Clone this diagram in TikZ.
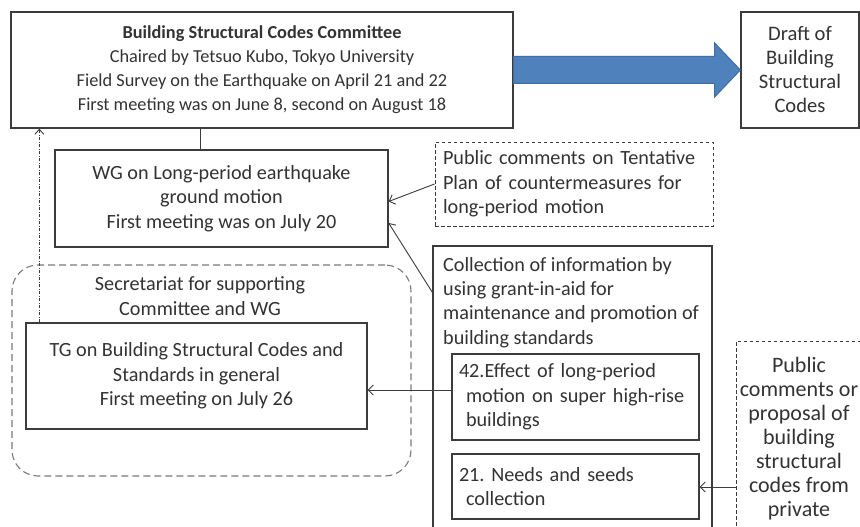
\documentclass[tikz,border=0pt]{standalone}
\usepackage{fontspec}
\setmainfont{Carlito}
\frenchspacing
\usetikzlibrary{arrows.meta,calc}
\definecolor{ink}{HTML}{333333}
\definecolor{edge}{HTML}{3C3C3C}
\definecolor{blueA}{HTML}{4F81BD}
\definecolor{blueB}{HTML}{3F6E9F}
\definecolor{secgray}{HTML}{7A7A7A}
\tikzset{
  box/.style={draw=edge, line width=1.3pt, rectangle, inner sep=0pt, text=ink, align=center},
  dbox/.style={draw=edge, line width=1pt, rectangle, inner sep=0pt, dash pattern=on 3.5pt off 2.5pt},
  txt/.style={text=ink, inner sep=0pt},
  conn/.style={draw=edge, line width=0.9pt, -{Straight Barb[length=5pt,width=10pt]}},
  plain/.style={draw=edge, line width=0.9pt},
  fa/.style={font=\fontsize{18.3}{24}\selectfont},
  fb/.style={font=\fontsize{20.2}{24.3}\selectfont},
  fc/.style={font=\fontsize{20.6}{24}\selectfont},
  fd/.style={font=\fontsize{22}{24}\selectfont},
}
\begin{document}
\begin{tikzpicture}[x=1pt,y=-1pt]
\useasboundingbox (0,0) rectangle (860,527);
\clip (0,0) rectangle (860,527);
\fill[white] (0,0) rectangle (860,527);

% main boxes
\node[box, fa, minimum width=502, minimum height=116] (comm) at (262,70)
  {\textbf{Building Structural Codes Committee}\\Chaired by Tetsuo Kubo, Tokyo University\\Field Survey on the Earthquake on April 21 and 22\\First meeting was on June 8, second on August 18};
\node[box, fc, minimum width=118, minimum height=116] (draft) at (800,70)
  {Draft of\\Building\\Structural\\Codes};
\node[box, fb, minimum width=333, minimum height=97] (wg) at (221.5,198.5)
  {WG on Long-period earthquake\\ground motion\\First meeting was on July 20};
\node[dbox, fb, minimum width=278, minimum height=84, text width=262, align=left, text=ink] (pub) at (574,184)
  {Public comments on Tentative\\Plan of countermeasures for\\long-period motion};
\node[box, minimum width=279, minimum height=354] (coll) at (572.5,423) {};
\node[txt, fb, anchor=north west, align=left] (colltext) at (443,257)
  {Collection of information by\\using grant-in-aid for\\maintenance and promotion of\\building standards};
\node[draw=secgray, line width=1.1pt, dash pattern=on 7pt off 4pt, rounded corners=26pt,
  minimum width=399, minimum height=211, inner sep=0pt] (sec) at (211.5,370.5) {};
\node[txt, fb, align=center] (sectext) at (200,296) {Secretariat for supporting\\Committee and WG};
\node[box, fb, minimum width=341, minimum height=106] (tg) at (196.5,376)
  {TG on Building Structural Codes and\\Standards in general\\First meeting on July 26};
\node[box, fb, minimum width=247, minimum height=86, text width=233, align=left] (b42) at (575.5,397)
  {42.Effect of long-period\\\hspace*{7pt}motion on super high-rise\\\hspace*{7pt}buildings};
\node[box, fb, minimum width=247, minimum height=65, text width=233, align=left] (b21) at (575.5,486.5)
  {21. Needs and seeds\\\hspace*{7pt}collection};
\node[dbox, minimum width=164, minimum height=259] (priv) at (818,470.5) {};
\node[txt, fd, align=center] (privtext) at (799,439)
  {Public\\comments or\\proposal of\\building\\structural\\codes from\\private};

% big blue arrow
\fill[blueA, draw=blueB, line width=1pt]
  ($(comm.east)+(0,-13.5)$) -- ++(201,0) -- ++(0,-13.5) -- (draft.west)
  -- ($(comm.east)+(201,27)$) -- ++(0,-13.5) -- ($(comm.east)+(0,13.5)$) -- cycle;

% connectors
\coordinate (wgtop) at ($(wg.north)+(-21.5,0)$);
\draw[plain] (wgtop) -- (wgtop |- comm.south);
\draw[conn] (pub.west) -- ($(wg.east)+(0,3)$);
\draw[conn] ($(coll.north west)+(0,47)$) -- ($(wg.east)+(0,24.5)$);
\coordinate (a42) at ($(b42.west)+(0,-7)$);
\draw[conn] (a42) -- (a42 -| tg.east);
\coordinate (apriv) at ($(priv.west)+(0,16.5)$);
\draw[conn] (apriv) -- (apriv -| b21.east);
\coordinate (tgup) at ($(tg.north west)+(14,0)$);
\draw[draw=edge, line width=0.9pt, dash pattern=on 3pt off 1.5pt on 1pt off 1.5pt,
  -{Straight Barb[length=5pt,width=9pt]}] (tgup) -- (tgup |- comm.south);
\end{tikzpicture}
\end{document}
